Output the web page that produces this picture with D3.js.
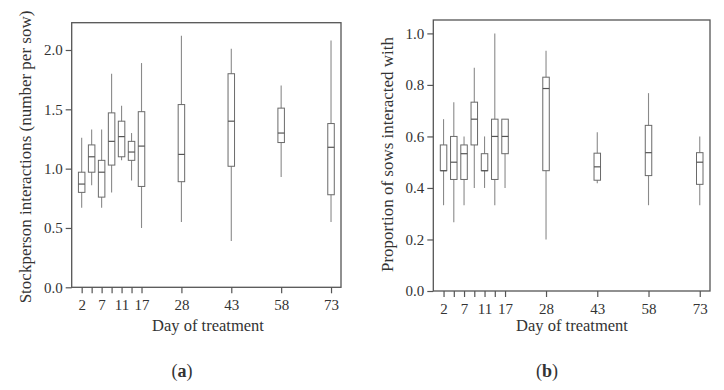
<!DOCTYPE html>
<html>
<head>
<meta charset="utf-8">
<script src="https://cdn.jsdelivr.net/npm/d3@7"></script>
<style>
  html, body { margin: 0; padding: 0; background: #fff; }
  svg text { font-family: "Liberation Serif", "Times New Roman", serif; fill: #333; }
</style>
</head>
<body>
<svg id="chart" width="724" height="390"></svg>
<script>
// ---- data ----
const days = [2, 4, 7, 9, 11, 14, 17, 28, 43, 58, 73];
const tickLabels = [2, 7, 11, 17, 28, 43, 58, 73];

// Panel (a): Stockperson interactions (number per sow)
const aLow    = [0.67, 0.86, 0.67, 0.80, 1.07, 0.90, 0.50, 0.55, 0.39, 0.93, 0.55];
const aQ1     = [0.80, 0.97, 0.76, 1.03, 1.10, 1.07, 0.85, 0.89, 1.02, 1.22, 0.78];
const aMedian = [0.87, 1.10, 0.97, 1.23, 1.27, 1.14, 1.19, 1.12, 1.40, 1.30, 1.18];
const aQ3     = [0.97, 1.20, 1.07, 1.47, 1.40, 1.23, 1.48, 1.54, 1.80, 1.51, 1.38];
const aHigh   = [1.26, 1.33, 1.33, 1.80, 1.53, 1.30, 1.89, 2.12, 2.01, 1.70, 2.08];
const aTicks  = [0.0, 0.5, 1.0, 1.5, 2.0];

// Panel (b): Proportion of sows interacted with
const bLow    = [0.333, 0.267, 0.333, 0.400, 0.400, 0.333, 0.400, 0.200, 0.418, 0.333, 0.333];
const bQ1     = [0.467, 0.433, 0.433, 0.567, 0.467, 0.433, 0.533, 0.467, 0.430, 0.448, 0.414];
const bMedian = [0.467, 0.500, 0.533, 0.667, 0.467, 0.600, 0.600, 0.786, 0.482, 0.537, 0.500];
const bQ3     = [0.567, 0.600, 0.567, 0.733, 0.533, 0.667, 0.667, 0.830, 0.535, 0.643, 0.537];
const bHigh   = [0.667, 0.733, 0.600, 0.867, 0.600, 1.000, 0.667, 0.933, 0.616, 0.768, 0.600];
const bTicks  = [0.0, 0.2, 0.4, 0.6, 0.8, 1.0];

const svg = d3.select("#chart");

// day -> slot position: early days evenly spaced, later days spread wider
const slotOf = (d, i) => i < 7 ? i : 10 + 5 * (i - 7);
const daySlot = d3.scaleLinear().domain(days).range(days.map(slotOf));

function drawPanel(cfg) {
  const g = svg.append("g");
  const x = d3.scaleLinear().domain([-1, 26]).range([cfg.left, cfg.right]);
  const y = d3.scaleLinear().domain([0, cfg.yMax]).range([cfg.bottom, cfg.top]);
  const xp = d => x(daySlot(d));

  // frame
  g.append("rect")
    .attr("x", cfg.left).attr("y", cfg.top)
    .attr("width", cfg.right - cfg.left).attr("height", cfg.bottom - cfg.top)
    .attr("fill", "none").attr("stroke", "#555").attr("stroke-width", 1.3);

  // y axis
  const yAxis = g.append("g").attr("transform", `translate(${cfg.left},0)`)
    .call(d3.axisLeft(y).tickValues(cfg.ticks).tickFormat(d3.format(".1f")).tickSize(6).tickPadding(3));
  yAxis.select(".domain").remove();
  yAxis.selectAll("line").attr("stroke", "#555").attr("stroke-width", 1.2);
  yAxis.selectAll("text").attr("font-size", 15).attr("fill", "#333")
    .style("font-family", '"Liberation Serif", serif');

  // x axis
  const xAxis = g.append("g").attr("transform", `translate(0,${cfg.bottom})`)
    .call(d3.axisBottom(x)
      .tickValues(days.map(d => daySlot(d)))
      .tickFormat((s, i) => tickLabels.includes(days[i]) ? String(days[i]) : "")
      .tickSize(6).tickPadding(6));
  xAxis.select(".domain").remove();
  xAxis.selectAll("line").attr("stroke", "#555").attr("stroke-width", 1.2);
  xAxis.selectAll("text").attr("font-size", 15).attr("fill", "#333")
    .style("font-family", '"Liberation Serif", serif');

  // boxes
  const data = days.map((d, i) => ({
    day: d, low: cfg.low[i], q1: cfg.q1[i], med: cfg.med[i], q3: cfg.q3[i], high: cfg.high[i]
  }));
  const bw = 6.5;
  const box = g.append("g").selectAll("g").data(data).join("g");
  box.append("line")
    .attr("x1", d => xp(d.day)).attr("x2", d => xp(d.day))
    .attr("y1", d => y(d.low)).attr("y2", d => y(d.high))
    .attr("stroke", "#8a8a8a").attr("stroke-width", 1.1);
  box.append("rect")
    .attr("x", d => xp(d.day) - bw / 2).attr("width", bw)
    .attr("y", d => y(d.q3)).attr("height", d => y(d.q1) - y(d.q3))
    .attr("fill", "#fff").attr("stroke", "#6a6a6a").attr("stroke-width", 1);
  box.append("line")
    .attr("x1", d => xp(d.day) - bw / 2).attr("x2", d => xp(d.day) + bw / 2)
    .attr("y1", d => y(d.med)).attr("y2", d => y(d.med))
    .attr("stroke", "#555").attr("stroke-width", 1.2);

  // titles
  g.append("text")
    .attr("transform", `translate(${cfg.yTitleX},${(cfg.top + cfg.bottom) / 2 + cfg.yTitleDy}) rotate(-90)`)
    .attr("text-anchor", "middle").attr("font-size", 17)
    .text(cfg.yTitle);
  g.append("text")
    .attr("x", cfg.xTitleX).attr("y", 331)
    .attr("text-anchor", "middle").attr("font-size", 16.5)
    .text("Day of treatment");

  const lab = g.append("text")
    .attr("x", cfg.labelX).attr("y", 377)
    .attr("text-anchor", "middle").attr("font-size", 18);
  lab.append("tspan").text("(");
  lab.append("tspan").attr("font-weight", "bold").text(cfg.label);
  lab.append("tspan").text(")");
}

drawPanel({
  left: 71.7, right: 341, top: 22.7, bottom: 287.3, yMax: 2.23,
  ticks: aTicks, low: aLow, q1: aQ1, med: aMedian, q3: aQ3, high: aHigh,
  yTitle: "Stockperson interactions (number per sow)", yTitleX: 31, yTitleDy: 2,
  xTitleX: 208, labelX: 182, label: "a"
});

drawPanel({
  left: 433.3, right: 710, top: 20, bottom: 291, yMax: 1.052,
  ticks: bTicks, low: bLow, q1: bQ1, med: bMedian, q3: bQ3, high: bHigh,
  yTitle: "Proportion of sows interacted with", yTitleX: 393, yTitleDy: -1,
  xTitleX: 572, labelX: 547, label: "b"
});
</script>
</body>
</html>
